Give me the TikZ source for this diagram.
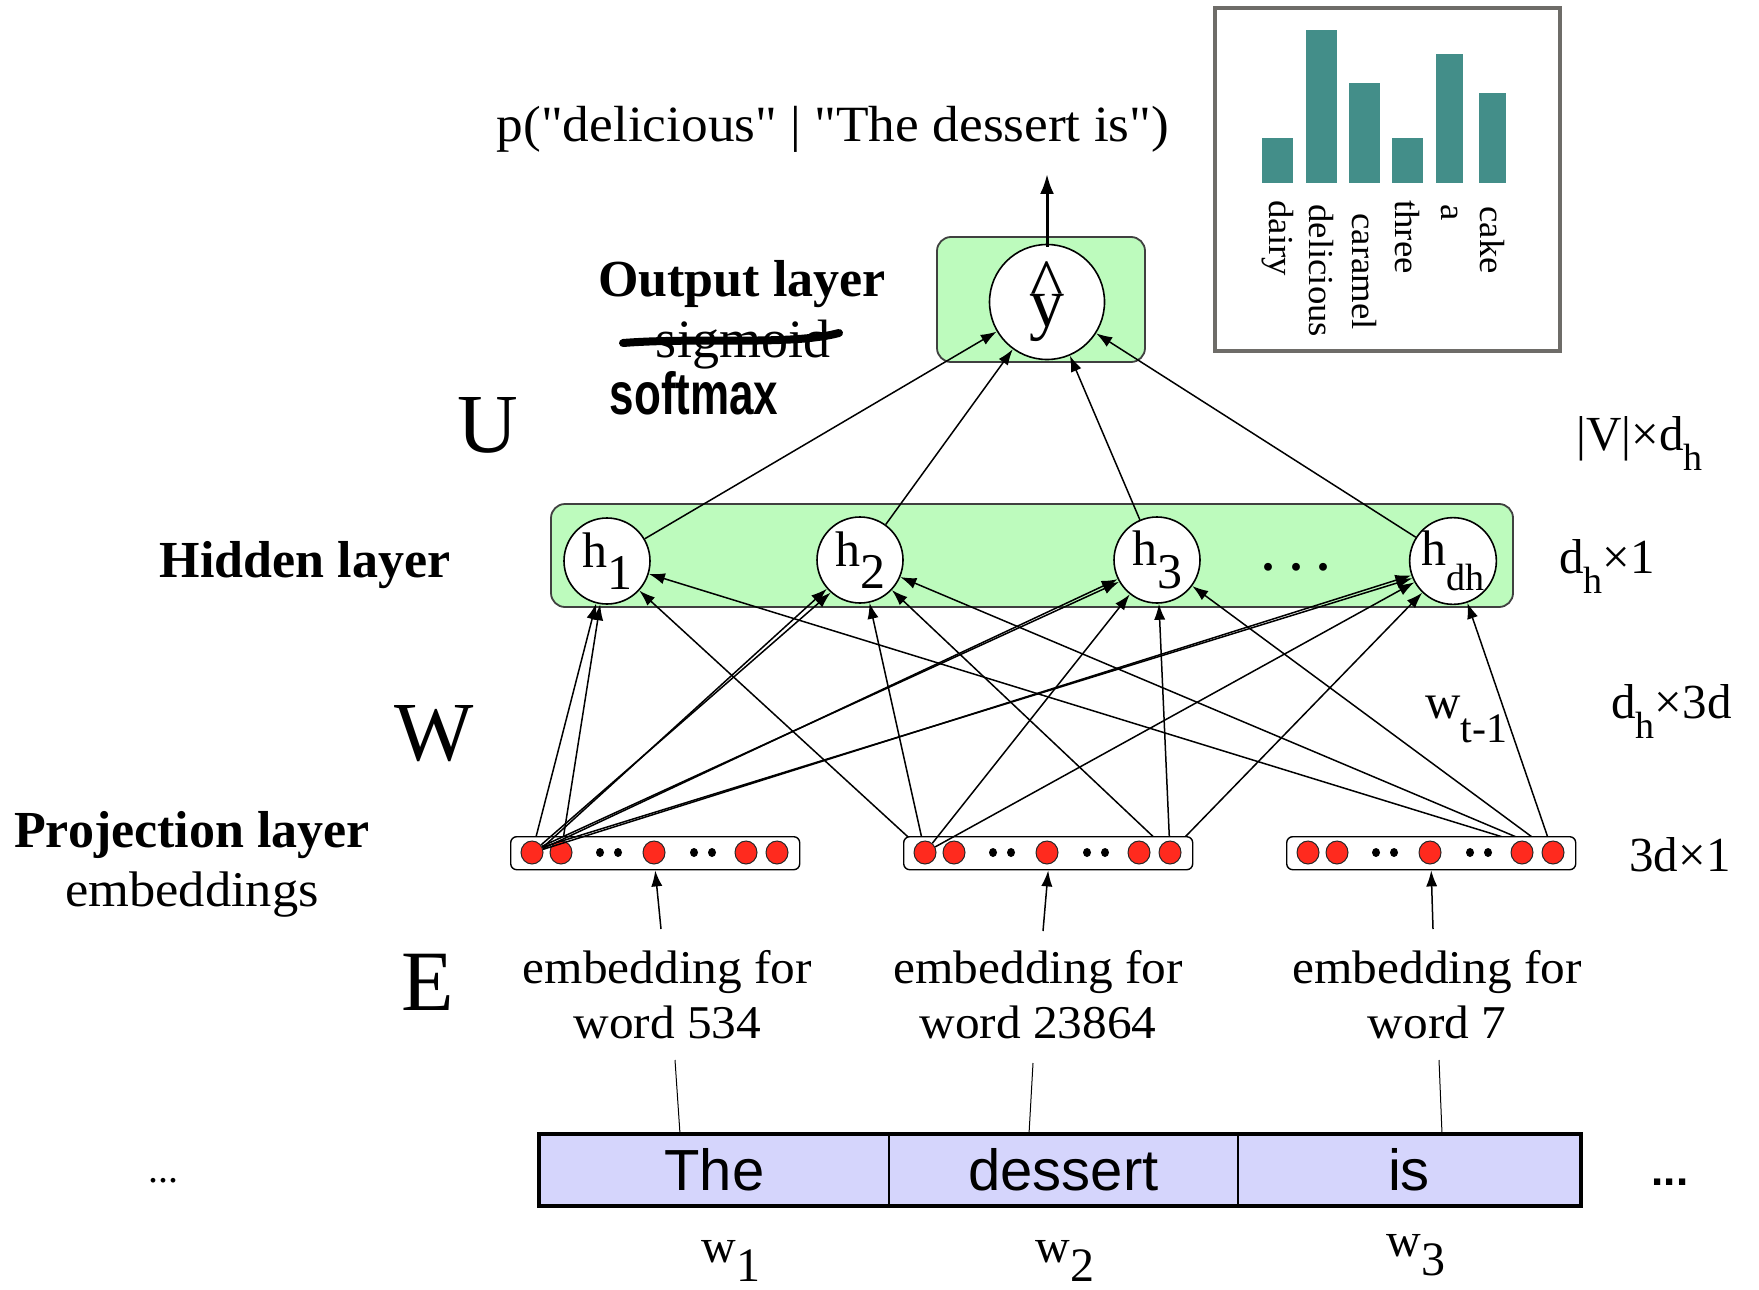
\documentclass[tikz,border=0pt]{standalone}
\usepackage{fontspec}
\usepackage{graphicx}
\setmainfont{Liberation Serif}
\newfontfamily\sansf{Liberation Sans}
\newfontfamily\palf[FakeStretch=1.05]{Liberation Serif}
\usetikzlibrary{arrows.meta,shapes.geometric}
\pgfdeclarelayer{bg}
\pgfdeclarelayer{behind}
\pgfsetlayers{bg,behind,main}
\definecolor{hgreen}{RGB}{189,251,189}
\definecolor{dotred}{RGB}{255,42,30}
\definecolor{wordfill}{RGB}{213,213,252}
\definecolor{barteal}{RGB}{67,142,137}
\definecolor{framegray}{RGB}{110,108,104}
\newcommand\myfs[1]{\fontsize{#1}{#1}\selectfont}
\newcommand\myfsb[2]{\fontsize{#1}{#2}\selectfont}
\begin{document}
\begin{tikzpicture}[x=0.5pt,y=-0.5pt,
  arr/.style={-{Latex[length=8pt,width=5.6pt]}, line width=0.75pt},
  outarr/.style={-{Latex[length=10pt,width=7pt]}, line width=1.5pt},
  plain/.style={line width=0.5pt},
  greenbox/.style={rectangle, rounded corners=7pt, draw=black!75, line width=0.9pt, fill=hgreen},
  hnode/.style={circle, draw=black, line width=0.8pt, fill=white, minimum size=43pt, inner sep=0pt, font=\myfs{25}},
  ynode/.style={circle, draw=black, line width=0.8pt, fill=white, minimum size=57.5pt, inner sep=0pt, font=\myfs{35}},
  projbox/.style={rectangle, rounded corners=3pt, draw=black, line width=0.7pt, fill=white, minimum width=144.5pt, minimum height=16.5pt, inner sep=0pt},
  rdot/.style={ellipse, draw=black!85, line width=0.5pt, fill=dotred, minimum width=11pt, minimum height=11.5pt, inner sep=0pt},
  bdot/.style={ellipse, fill=black, minimum width=4pt, minimum height=4.5pt, inner sep=0pt},
  wordbox/.style={rectangle, draw=black, line width=1pt, fill=wordfill, minimum height=35pt, inner sep=0pt, font=\sansf\myfs{29}},
  embl/.style={align=center, inner sep=0pt, font=\palf\myfsb{23.5}{27.5}},
  layerlab/.style={font=\bfseries\myfs{26}, inner sep=0pt, anchor=base},
  biglab/.style={font=\myfs{42}, inner sep=0pt, anchor=base},
  dimlab/.style={font=\myfs{24.5}, inner sep=0pt, anchor=base west},
  barlab/.style={rotate=-90, anchor=west, inner sep=0pt, font=\palf\myfs{17.5}},
  wlab/.style={font=\myfs{24}, inner sep=0pt, anchor=base}
]
\useasboundingbox (0,0) rectangle (1759,1289);
\begin{pgfonlayer}{bg}
\fill[white] (0,0) rectangle (1759,1289);
\node[greenbox, minimum width=481pt, minimum height=51.5pt] (hbox) at (1032,555.5) {};
\node[greenbox, minimum width=104pt, minimum height=62.5pt] (obox) at (1041,299.5) {};
\end{pgfonlayer}

% title and output
\node[font=\palf\myfs{25.4}, inner sep=0pt, anchor=base] (title) at (833,142) {p("delicious" | "The dessert is")};
\node[ynode] (yhat) at (1047,302) {\ooalign{\hfil\raisebox{9.5pt}{\textasciicircum}\hfil\cr\hfil y\hfil\cr}};
\coordinate (ptop) at (1047,174);
\draw[outarr] ([yshift=-1.5pt]yhat.north) -- (ptop);

% hidden layer
\node[hnode] (h1) at (607,561) {h\raisebox{-0.45em}{1}};
\node[hnode] (h2) at (860,560) {h\raisebox{-0.45em}{2}};
\node[hnode] (h3) at (1157,560) {h\raisebox{-0.45em}{3}};
\node[hnode] (hdh) at (1453,561) {h\raisebox{-0.5em}{\myfs{19}dh}};
\node[font=\bfseries\myfs{24}, inner sep=0pt] (hdots) at (1296,567) {. . .};
\foreach \h in {h1,h2,h3,hdh} \draw[arr] (\h) -- (yhat);

% projection layer
\foreach \b/\L in {1/510,2/903,3/1286}{
  \node[projbox, anchor=north west] (pb\b) at (\L,836) {};
  \foreach \i/\o in {1/22,2/51,3/144,4/236,5/267}
    \node[rdot] (p\b\i) at (\L+\o,852.5) {};
  \foreach \i/\o in {1/90,2/108,3/184,4/202}
    \node[bdot] (q\b\i) at (\L+\o,852.5) {};
}

\begin{pgfonlayer}{behind}
\draw[arr] (p11.center) -- (h1);
\draw[arr] (p12.center) -- (h1);
\draw[arr] (p21.center) -- (h1);
\draw[arr] (p21.center) -- (h2);
\foreach \h in {h2,h3,hdh} \draw[arr] (p25.center) -- (\h);
\foreach \h in {h1,h2,h3,hdh} \draw[arr] (p35.center) -- (\h);
\end{pgfonlayer}

\draw[arr] (p11.25) -- (h2.221);
\draw[arr] (p11.40) -- (h2.228);
\draw[arr] (p11.20) -- (h3.206);
\draw[arr] (p11.32) -- (h3.210);
\draw[arr] (p11.16) -- (hdh.199);
\draw[arr] (p11.28) -- (hdh.203);
\draw[arr] (p21) -- (h3);
\draw[arr] (p21) -- (hdh);

% embedding labels
\node[embl] (emb1) at (667.5,994.5) {embedding for\\word 534};
\node[embl] (emb2) at (1038,994.5) {embedding for\\word 23864};
\node[embl] (emb3) at (1437,994.5) {embedding for\\word 7};
\coordinate (ea1) at (661,929);
\coordinate (ea2) at (1043,931);
\coordinate (ea3) at (1433,929);
\draw[arr] (ea1) -- (pb1.south);
\draw[arr] (ea2) -- (pb2.south);
\draw[arr] (ea3) -- (pb3.south);

% words
\node[wordbox, minimum width=174.5pt] (wThe) at (714.5,1170) {The};
\node[wordbox, minimum width=174.5pt] (wdes) at (1063.5,1170) {dessert};
\node[wordbox, minimum width=171pt] (wis) at (1409,1170) {is};
\draw[line width=2pt] (wThe.north west) rectangle (wis.south east);
\coordinate (la1) at (675,1060); \coordinate (lb1) at (680,1134);
\coordinate (la2) at (1033,1063); \coordinate (lb2) at (1029,1134);
\coordinate (la3) at (1439,1060); \coordinate (lb3) at (1442,1134);
\draw[plain] (la1) -- (lb1);
\draw[plain] (la2) -- (lb2);
\draw[plain] (la3) -- (lb3);
\node[wlab] (w1) at (731,1262) {w\raisebox{-0.4em}{1}};
\node[wlab] (w2) at (1065,1262) {w\raisebox{-0.4em}{2}};
\node[wlab] (w3) at (1416,1256) {w\raisebox{-0.4em}{3}};
\node[font=\myfs{20}, inner sep=0pt] (ldots) at (163,1181) {...};
\node[font=\sansf\bfseries\myfs{22}, inner sep=0pt] (rdots) at (1670,1182) {...};

% left labels
\node[biglab] (U) at (488,452) {U};
\node[biglab] (W) at (434,760) {W};
\node[biglab, font=\myfs{43}] (E) at (428,1010) {E};
\node[layerlab] (outlab) at (742,296) {Output layer};
\node[font=\myfs{27}, inner sep=0pt, anchor=base] (sig) at (743,357) {sigmoid};
\draw[line width=4pt, line cap=round] (623,343) .. controls (700,337) and (790,346) .. (839,333);
\node[font=\sansf\bfseries\myfs{22}, inner sep=0pt] (soft) at (694,393) {\scalebox{1}[1.35]{softmax}};
\node[layerlab] (hidlab) at (305,577) {Hidden layer};
\node[layerlab] (projlab) at (192,847) {Projection layer};
\node[font=\palf\myfs{25}, inner sep=0pt, anchor=base] (emblab) at (192,906) {embeddings};

% right dims
\node[dimlab] (vd) at (1576,450) {|V|×d\raisebox{-0.41em}{\myfs{19}h}};
\node[dimlab] (dh1) at (1559,573) {d\raisebox{-0.41em}{\myfs{19}h}×1};
\node[dimlab] (dh3d) at (1611,718) {d\raisebox{-0.41em}{\myfs{19}h}×3d};
\node[dimlab] (d31) at (1629,871) {3d×1};
\node[dimlab] (wt) at (1425,718) {w\raisebox{-0.5em}{\myfs{21}t-1}};

% chart
\draw[framegray, line width=2pt] (1215,8) rectangle (1560,351);
\fill[barteal] (1262,138) rectangle (1293,183);
\fill[barteal] (1306,30) rectangle (1337,183);
\fill[barteal] (1349,83) rectangle (1380,183);
\fill[barteal] (1392,138) rectangle (1423,183);
\fill[barteal] (1436,54) rectangle (1463,183);
\fill[barteal] (1479,93) rectangle (1506,183);
\node[barlab] (ldairy) at (1277.5,200) {dairy};
\node[barlab] (ldel) at (1321.5,204) {delicious};
\node[barlab] (lcar) at (1364.5,213) {caramel};
\node[barlab] (lthree) at (1407.5,200) {three};
\node[barlab] (lba) at (1449.5,204) {a};
\node[barlab] (lcake) at (1492.5,206) {cake};
\end{tikzpicture}
\end{document}
